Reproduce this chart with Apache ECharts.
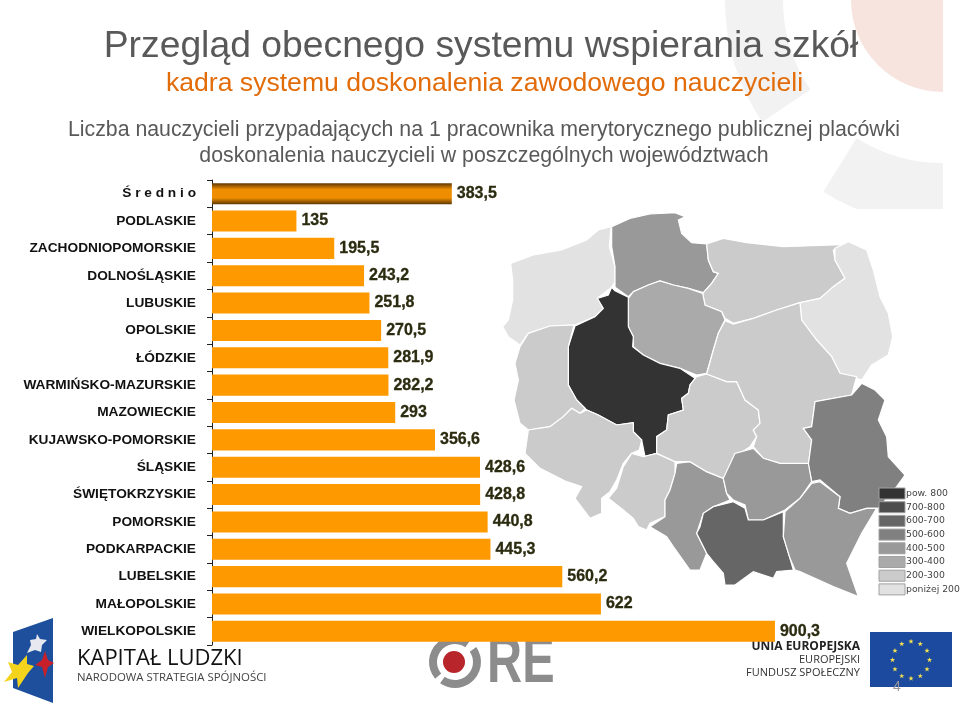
<!DOCTYPE html>
<html>
<head>
<meta charset="utf-8">
<style>html,body{margin:0;padding:0;background:#fff}#c{width:960px;height:707px}</style>
<script src="https://cdn.jsdelivr.net/npm/echarts@6/dist/echarts.min.js"></script>
</head>
<body>
<div id="c"></div>
<script>
const categories = ['Ś r e d n i o','PODLASKIE','ZACHODNIOPOMORSKIE','DOLNOŚLĄSKIE','LUBUSKIE','OPOLSKIE','ŁÓDZKIE','WARMIŃSKO-MAZURSKIE','MAZOWIECKIE','KUJAWSKO-POMORSKIE','ŚLĄSKIE','ŚWIĘTOKRZYSKIE','POMORSKIE','PODKARPACKIE','LUBELSKIE','MAŁOPOLSKIE','WIELKOPOLSKIE'];
const values = [383.5,135,195.5,243.2,251.8,270.5,281.9,282.2,293,356.6,428.6,428.8,440.8,445.3,560.2,622,900.3];
const legendBins = [
  {gt:800,label:'pow. 800',color:'#333333'},
  {gt:700,lte:800,label:'700-800',color:'#4d4d4d'},
  {gt:600,lte:700,label:'600-700',color:'#666666'},
  {gt:500,lte:600,label:'500-600',color:'#808080'},
  {gt:400,lte:500,label:'400-500',color:'#999999'},
  {gt:300,lte:400,label:'300-400',color:'#aaaaaa'},
  {gt:200,lte:300,label:'200-300',color:'#cbcbcb'},
  {lte:200,label:'poniżej 200',color:'#e2e2e2'}
];
// Traced voivodeship outlines (own units, y down)
const outlines = {
 'ZACHODNIOPOMORSKIE':[[32,190],[100,165],[185,150],[260,120],[295,90],[333,80],[328,140],[345,200],[345,245],[335,262],[295,292],[310,325],[285,350],[225,375],[150,378],[85,400],[60,435],[25,410],[8,380],[25,360],[38,300],[38,240]],
 'POMORSKIE':[[335,80],[390,55],[450,42],[525,38],[555,50],[535,60],[545,100],[575,128],[620,132],[625,180],[640,215],[655,220],[635,250],[610,278],[565,265],[520,255],[480,243],[445,255],[400,275],[385,290],[345,262],[345,200],[335,140]],
 'WARMIŃSKO-MAZURSKIE':[[620,132],[670,115],[740,128],[850,140],[1000,135],[1030,135],[1000,150],[1005,180],[1035,235],[1000,260],[960,295],[900,308],[830,330],[760,355],[700,370],[675,355],[665,335],[615,315],[608,280],[635,250],[655,220],[640,215],[625,180]],
 'PODLASKIE':[[1005,145],[1045,125],[1100,150],[1120,210],[1140,290],[1165,340],[1178,410],[1165,465],[1115,495],[1085,540],[1020,520],[995,470],[950,420],[905,360],[900,308],[960,295],[1000,260],[1035,235],[1005,180]],
 'KUJAWSKO-POMORSKIE':[[400,275],[445,255],[480,243],[520,255],[565,265],[608,280],[615,315],[665,335],[675,360],[655,400],[640,450],[620,520],[590,525],[540,505],[480,490],[430,465],[400,440],[400,410],[385,380],[385,295]],
 'WIELKOPOLSKIE':[[335,262],[345,272],[385,292],[385,380],[400,410],[398,440],[430,465],[480,490],[540,505],[585,535],[570,555],[565,580],[545,595],[550,630],[505,645],[500,690],[470,710],[470,760],[435,770],[425,720],[400,695],[400,668],[350,675],[295,645],[260,630],[230,600],[205,555],[205,440],[225,378],[285,350],[310,325],[292,295],[325,285]],
 'LUBUSKIE':[[60,440],[85,400],[150,378],[222,375],[205,440],[205,555],[230,600],[255,625],[240,640],[215,625],[190,650],[150,680],[85,690],[60,670],[42,600],[55,540],[45,490]],
 'DOLNOŚLĄSKIE':[[85,690],[150,680],[190,650],[215,625],[240,640],[260,630],[295,645],[350,675],[400,668],[400,695],[425,720],[418,750],[395,760],[370,790],[350,840],[330,875],[305,895],[305,940],[270,955],[225,895],[245,860],[200,845],[120,805],[75,760]],
 'OPOLSKIE':[[395,760],[430,770],[470,760],[525,785],[525,820],[510,870],[495,900],[495,950],[450,970],[440,990],[415,980],[400,955],[370,930],[325,895],[350,865],[370,800]],
 'ŚLĄSKIE':[[530,790],[570,785],[620,815],[670,835],[680,880],[690,900],[640,920],[610,940],[590,1000],[620,1060],[600,1110],[570,1110],[520,1040],[500,1010],[450,980],[495,950],[495,900],[510,870],[525,820]],
 'ŁÓDZKIE':[[590,530],[620,522],[680,545],[710,545],[735,600],[775,630],[780,670],[760,690],[770,710],[750,740],[705,770],[680,825],[670,835],[620,815],[570,785],[525,785],[470,760],[470,710],[500,690],[505,645],[550,630],[545,595],[565,580],[570,555]],
 'MAZOWIECKIE':[[675,362],[700,372],[760,355],[830,330],[900,308],[905,360],[950,420],[995,470],[1020,520],[1070,530],[1055,585],[945,605],[935,680],[910,685],[935,720],[925,795],[840,790],[790,775],[760,740],[770,710],[760,690],[780,670],[775,630],[735,600],[710,545],[680,545],[620,522],[640,450],[655,400]],
 'LUBELSKIE':[[945,605],[1055,585],[1085,550],[1125,570],[1155,600],[1135,660],[1160,710],[1165,770],[1215,825],[1190,860],[1135,925],[1100,925],[1050,940],[1015,925],[1020,890],[960,840],[935,845],[925,795],[935,720],[910,685],[935,680]],
 'ŚWIĘTOKRZYSKIE':[[705,760],[760,745],[790,775],[840,790],[925,790],[935,845],[900,895],[855,930],[790,960],[745,960],[735,915],[700,900],[680,880],[670,835]],
 'MAŁOPOLSKIE':[[600,980],[610,940],[640,920],[700,905],[735,925],[745,960],[790,960],[850,935],[850,1010],[870,1075],[880,1110],[830,1115],[820,1135],[760,1115],[705,1155],[675,1155],[670,1120],[640,1085],[620,1060],[590,1000]],
 'PODKARPACKIE':[[935,850],[960,845],[1020,890],[1015,925],[1050,940],[1100,925],[1130,925],[1085,1000],[1040,1090],[1075,1190],[1000,1160],[900,1115],[885,1110],[870,1075],[850,1010],[855,935],[900,895]]
};
const geo = {type:'FeatureCollection',features:Object.keys(outlines).map(n=>({type:'Feature',properties:{name:n},geometry:{type:'Polygon',coordinates:[outlines[n].concat([outlines[n][0]]).map(p=>[p[0],-p[1]])]}}))};
echarts.registerMap('PL',geo);
let xs=[],ys=[];Object.values(outlines).forEach(o=>o.forEach(p=>{xs.push(p[0]);ys.push(p[1])}));
const x0=Math.min(...xs),x1=Math.max(...xs),y0=Math.min(...ys),y1=Math.max(...ys);
const mapCx=500+(x0+x1)/6, mapCy=200+(y0+y1)/6, mapSize=Math.max(x1-x0,y1-y0)/3;

function star(cx,cy,r,r2,n,rot){const p=[];for(let i=0;i<n*2;i++){const a=rot+i*Math.PI/n,q=i%2?r2:r;p.push([cx+q*Math.sin(a),cy-q*Math.cos(a)]);}return p;}
const euStars=[];for(let i=0;i<12;i++){const a=i*Math.PI/6;euStars.push({type:'polygon',z:1,shape:{points:star(911+18.5*Math.sin(a),660-18.5*Math.cos(a),2.8,1.1,5,0)},style:{fill:'#f5e050'}});}
const txt=(x,y,t,font,fill,align)=>({type:'text',z:1,x,y,style:{text:t,font,fill,align:align||'left',verticalAlign:'middle'}});
const arc=(cx,cy,r,r0,s,e,fill,z)=>({type:'sector',z:z||0,shape:{cx,cy,r,r0,startAngle:s*Math.PI/180,endAngle:e*Math.PI/180},style:{fill}});
const legendFrames=legendBins.map((b,i)=>({type:'rect',z:7,shape:{x:879,y:488+i*13.7,width:26,height:11},style:{fill:'none',stroke:'#a0a0a0',lineWidth:1}}));

const chart=echarts.init(document.getElementById('c'),null,{renderer:'canvas'});
chart.setOption({
 animation:false,backgroundColor:'#fff',
 title:[
  {text:'Przegląd obecnego systemu wspierania szkół',left:476,textAlign:'center',top:23,textStyle:{fontFamily:'Liberation Sans',fontSize:37.3,fontWeight:'normal',color:'#595959'}},
  {text:'kadra systemu doskonalenia zawodowego nauczycieli',left:479.5,textAlign:'center',top:65,textStyle:{fontFamily:'Liberation Sans',fontSize:26.6,fontWeight:'normal',color:'#e36c0a'}},
  {text:'Liczba nauczycieli przypadających na 1 pracownika merytorycznego publicznej placówki',left:479,textAlign:'center',top:114.5,textStyle:{fontFamily:'Liberation Sans',fontSize:21.3,fontWeight:'normal',color:'#595959'}},
  {text:'doskonalenia nauczycieli w poszczególnych województwach',left:479,textAlign:'center',top:140.5,textStyle:{fontFamily:'Liberation Sans',fontSize:21.3,fontWeight:'normal',color:'#595959'}}
 ],
 grid:{left:212,top:180,width:625.3,height:465,containLabel:false},
 xAxis:{type:'value',min:0,max:1000,show:false},
 yAxis:{type:'category',inverse:true,data:categories,
  axisLine:{lineStyle:{color:'#222',width:1}},
  axisTick:{show:true,length:5,lineStyle:{color:'#222'}},
  axisLabel:{margin:16,color:'#111',fontFamily:'Liberation Sans',fontWeight:'bold',fontSize:13.7}},
 visualMap:{type:'piecewise',seriesIndex:1,pieces:legendBins,selectedMode:false,hoverLink:false,orient:'vertical',align:'left',left:879,top:488,itemWidth:26,itemHeight:11,itemGap:2.7,itemSymbol:'rect',textGap:1,textStyle:{fontFamily:'DejaVu Sans',fontSize:9.3,color:'#444'},padding:0,z:5},
 graphic:{elements:[
  arc(943,0,92,0,90,180,'#f8e4de'),
  arc(943,0,218,160,146,180,'#f2f2f2'),
  arc(943,0,226,163,90,122,'#f2f2f2'),
  {type:'rect',z:0,shape:{x:790,y:209,width:170,height:40},style:{fill:'#fff'}},
  ...legendFrames,
  // Kapitał Ludzki logo
  {type:'polygon',z:1,shape:{points:[[13,632],[53,618],[53,703],[13,688]]},style:{fill:'#1d4f9c'}},
  {type:'polygon',z:1,shape:{points:[[37,634],[40,639],[47,640],[42,645],[41,652],[35,650],[27,653],[31,645],[30,640],[36,639]]},style:{fill:'#e8e8f0'}},
  {type:'polygon',z:1,shape:{points:[[27,655],[27,664],[34,666],[28,673],[18,688],[17,678],[4,682],[12,672],[8,662],[18,665]]},style:{fill:'#f3d31c'}},
  {type:'polygon',z:1,shape:{points:[[45,651],[48,660],[54,663],[48,667],[45,678],[42,667],[35,665],[42,660]]},style:{fill:'#c8202a'}},
  txt(77,659,'KAPITAŁ LUDZKI','22px "Open Sans"','#111'),
  txt(77,678,'NARODOWA STRATEGIA SPÓJNOŚCI','11.4px "Open Sans"','#444'),
  // ORE logo
  arc(455,662,26,18,-35,125,'#8c8c8c'),
  arc(455,662,26,18,140,305,'#8c8c8c'),
  {type:'circle',z:1,shape:{cx:454,cy:662,r:11},style:{fill:'#b8262c'}},
  {type:'text',z:1,x:487,y:664,scaleX:0.76,style:{text:'RE',font:'bold 64px "Liberation Sans"',fill:'#8c8c8c',align:'left',verticalAlign:'middle'}},
  // EU
  txt(860,647,'UNIA EUROPEJSKA','bold 12px "Open Sans"','#222','right'),
  txt(860,660,'EUROPEJSKI','11px "Open Sans"','#333','right'),
  txt(860,673,'FUNDUSZ SPOŁECZNY','11px "Open Sans"','#333','right'),
  {type:'rect',z:1,shape:{x:870,y:632,width:82,height:55},style:{fill:'#1c4a9e'}},
  ...euStars,
  txt(897,687,'4','14px "Liberation Sans"','#999','center')
 ]},
 series:[
  {type:'bar',z:4,barCategoryGap:'23%',
   data:values.map((v,i)=>i===0?{value:v,itemStyle:{color:{type:'linear',x:0,y:0,x2:0,y2:1,colorStops:[{offset:0,color:'#5e3600'},{offset:0.3,color:'#ee8e00'},{offset:0.7,color:'#ee8e00'},{offset:1,color:'#5e3600'}]}}}:v),
   itemStyle:{color:'#ff9900'},
   label:{show:true,position:'right',distance:5,fontFamily:'Liberation Sans',fontWeight:'bold',fontSize:16,color:'#2b2b10',textBorderColor:'#2b2b10',textBorderWidth:0.3,
     formatter:p=>String(p.value).replace('.',',')}},
  {type:'map',map:'PL',z:1,roam:false,aspectScale:1,layoutCenter:[mapCx,mapCy],layoutSize:mapSize,silent:true,
   label:{show:false},emphasis:{disabled:true},
   itemStyle:{borderColor:'#ffffff',borderWidth:1.2},
   data:categories.map((c,i)=>({name:c,value:values[i]})).filter(d=>outlines[d.name])}
 ]
});
</script>
</body>
</html>
